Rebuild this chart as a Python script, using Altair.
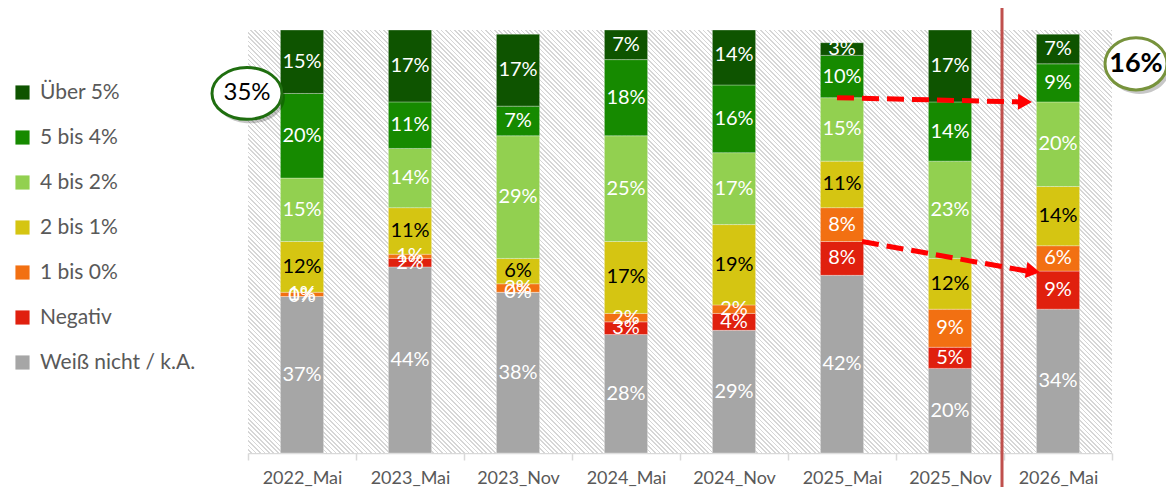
import altair as alt
import pandas as pd

# ---------------- data ----------------
categories = ["2022_Mai", "2023_Mai", "2023_Nov", "2024_Mai",
              "2024_Nov", "2025_Mai", "2025_Nov", "2026_Mai"]

# series listed bottom -> top of the stack
weiss_nicht = [37, 44, 38, 28, 29, 42, 20, 34]
negativ     = [0, 2, 0, 3, 4, 8, 5, 9]
bis_1_0     = [1, 1, 2, 2, 2, 8, 9, 6]
bis_2_1     = [12, 11, 6, 17, 19, 11, 12, 14]
bis_4_2     = [15, 14, 29, 25, 17, 15, 23, 20]
bis_5_4     = [20, 11, 7, 18, 16, 10, 14, 9]
ueber_5     = [15, 17, 17, 7, 14, 3, 17, 7]

stack_names = ["Weiß nicht / k.A.", "Negativ", "1 bis 0%", "2 bis 1%",
               "4 bis 2%", "5 bis 4%", "Über 5%"]
stack_values = [weiss_nicht, negativ, bis_1_0, bis_2_1, bis_4_2, bis_5_4, ueber_5]

legend_order = ["Über 5%", "5 bis 4%", "4 bis 2%", "2 bis 1%",
                "1 bis 0%", "Negativ", "Weiß nicht / k.A."]
legend_colors = ["#0e5400", "#168a00", "#92d050", "#d5c512",
                 "#f27012", "#e0200e", "#a6a6a6"]

# annotation bubbles
bubble_35 = {"cat": "2022_Mai", "y": 85, "text": "35%"}
bubble_16 = {"cat": "2026_Mai", "y": 92, "text": "16%"}

# ---------------- tables ----------------
rows = []
for ci, cat in enumerate(categories):
    cum = 0
    for si, (name, vals) in enumerate(zip(stack_names, stack_values)):
        v = vals[ci]
        rows.append({"cat": cat, "series": name, "value": v, "idx": si,
                     "mid": cum + v / 2, "top": cum + v, "label": f"{v}%"})
        cum += v
df = pd.DataFrame(rows)


def top_of(cat, series):
    return float(df[(df.cat == cat) & (df.series == series)]["top"].iloc[0])


arrow_hi = pd.DataFrame({"cat": ["2025_Mai"], "cat2": ["2026_Mai"],
                         "y0": [top_of("2025_Mai", "4 bis 2%")],
                         "y1": [top_of("2026_Mai", "4 bis 2%")]})
arrow_lo = pd.DataFrame({"cat": ["2025_Mai"], "cat2": ["2026_Mai"],
                         "y0": [top_of("2025_Mai", "Negativ")],
                         "y1": [top_of("2026_Mai", "Negativ")]})
vline = pd.DataFrame({"cat": ["2026_Mai"]})
b35 = pd.DataFrame([bubble_35])
b16 = pd.DataFrame([bubble_16])

# ---------------- layout ----------------
W, H = 864, 423
FONT = "Lato"
GRAY_TXT = "#595959"

x_enc = alt.X("cat:N", sort=categories,
              scale=alt.Scale(paddingInner=0, paddingOuter=0),
              axis=alt.Axis(title=None, labelAngle=0, labelFont=FONT,
                            labelFontSize=18, labelColor=GRAY_TXT,
                            labelPadding=9, domainColor="#d9d9d9",
                            domainWidth=1.5, tickColor="#d9d9d9",
                            tickWidth=1.5, tickSize=7, tickBand="extent",
                            grid=False))
y_scale = alt.Scale(domain=[0, 100], nice=False, clamp=True)

# hatched background via a striped linear gradient
r = H / W
a = (1 + r) / (1 + r * r)
n_stripes = 290
stops = []
for i in range(n_stripes):
    o0 = i / n_stripes
    o1 = (i + 0.62) / n_stripes
    o2 = (i + 1) / n_stripes
    stops += [alt.GradientStop(color="#ffffff", offset=o0),
              alt.GradientStop(color="#ffffff", offset=o1),
              alt.GradientStop(color="#d6d6d6", offset=o1),
              alt.GradientStop(color="#d6d6d6", offset=o2)]
hatch_grad = alt.LinearGradient(gradient="linear", stops=stops,
                                x1=0, y1=1, x2=a, y2=1 - a * r)

hatch = alt.Chart(pd.DataFrame({"k": [0]})).mark_rect(fill=hatch_grad).encode(
    x=alt.value(0), x2=alt.value(W), y=alt.value(0), y2=alt.value(H))

bars = alt.Chart(df).mark_bar(width={"band": 0.4}, stroke="white",
                              strokeWidth=0.6, strokeOpacity=0.5).encode(
    x=x_enc,
    y=alt.Y("value:Q", stack="zero", scale=y_scale, axis=None),
    color=alt.Color("series:N",
                    scale=alt.Scale(domain=legend_order, range=legend_colors),
                    legend=alt.Legend(title=None, orient="none",
                                      legendX=-236, legendY=52, padding=0,
                                      symbolType="square", symbolSize=200,
                                      symbolStrokeWidth=0, symbolOpacity=1,
                                      labelFont=FONT, labelFontSize=21,
                                      labelColor=GRAY_TXT, labelOffset=7,
                                      rowPadding=23, labelLimit=300)),
    order=alt.Order("idx:Q", sort="ascending"),
)

labels = alt.Chart(df).mark_text(font=FONT, fontSize=20, baseline="middle").encode(
    x=alt.X("cat:N", sort=categories),
    y=alt.Y("mid:Q", scale=y_scale),
    text="label:N",
    color=alt.condition("datum.series === '2 bis 1%'",
                        alt.value("#000000"), alt.value("#ffffff")),
)

vrule = alt.Chart(vline).mark_rule(color="#c0504d", strokeWidth=3, xOffset=-2).encode(
    x=alt.X("cat:N", sort=categories, bandPosition=0),
    y=alt.value(-22), y2=alt.value(H + 34))

RED = "#ff0000"
arrow1 = alt.Chart(arrow_hi).mark_rule(color=RED, strokeWidth=5, strokeDash=[17, 8],
                                        xOffset=-5, x2Offset=-38).encode(
    x=alt.X("cat:N", sort=categories, bandPosition=0.5),
    x2="cat2:N",
    y=alt.Y("y0:Q", scale=y_scale), y2="y1:Q")
head1 = alt.Chart(arrow_hi).mark_point(shape="triangle-right", size=260, filled=True,
                                        color=RED, opacity=1, angle=1,
                                        xOffset=-33).encode(
    x=alt.X("cat2:N", sort=categories, bandPosition=0.5),
    y=alt.Y("y1:Q", scale=y_scale))
arrow2 = alt.Chart(arrow_lo).mark_rule(color=RED, strokeWidth=5, strokeDash=[17, 8],
                                        xOffset=20, x2Offset=-31).encode(
    x=alt.X("cat:N", sort=categories, bandPosition=0.5),
    x2="cat2:N",
    y=alt.Y("y0:Q", scale=y_scale), y2="y1:Q")
head2 = alt.Chart(arrow_lo).mark_point(shape="triangle-right", size=260, filled=True,
                                        color=RED, opacity=1, angle=9,
                                        xOffset=-25).encode(
    x=alt.X("cat2:N", sort=categories, bandPosition=0.5),
    y=alt.Y("y1:Q", scale=y_scale))

ell35 = "M-1,0 A1,0.74 0 1,1 1,0 A1,0.74 0 1,1 -1,0 Z"
ell16 = "M-1,0 A1,0.84 0 1,1 1,0 A1,0.84 0 1,1 -1,0 Z"


def bubble(data, path, size, dx, stroke, font_weight, font_size):
    enc = dict(x=alt.X("cat:N", sort=categories, bandPosition=0.5),
               y=alt.Y("y:Q", scale=y_scale))
    shadow = alt.Chart(data).mark_point(shape=path, size=size, filled=True,
                                        color="#000000", opacity=0.22,
                                        xOffset=dx + 3, yOffset=4).encode(**enc)
    body = alt.Chart(data).mark_point(shape=path, size=size, fill="#ffffff",
                                      fillOpacity=1, stroke=stroke,
                                      strokeWidth=3, opacity=1,
                                      xOffset=dx).encode(**enc)
    txt = alt.Chart(data).mark_text(font=FONT, fontSize=font_size,
                                    fontWeight=font_weight, color="#000000",
                                    baseline="middle", xOffset=dx).encode(
        text="text:N", **enc)
    return [shadow, body, txt]


layers = [hatch, bars, labels, vrule, arrow1, head1, arrow2, head2]
layers += bubble(b35, ell35, 4900, -55, "#1f6e0f", "normal", 24)
layers += bubble(b16, ell16, 3844, 78, "#77933c", "bold", 27)

chart = alt.layer(*layers).properties(
    width=W, height=H,
    padding={"left": 240, "top": 22, "right": 54, "bottom": 34},
    autosize=alt.AutoSizeParams(type="none"),
).configure_view(stroke=None).resolve_scale(color="independent")

chart.save("out.html", embed_options={"renderer": "svg", "actions": False})
